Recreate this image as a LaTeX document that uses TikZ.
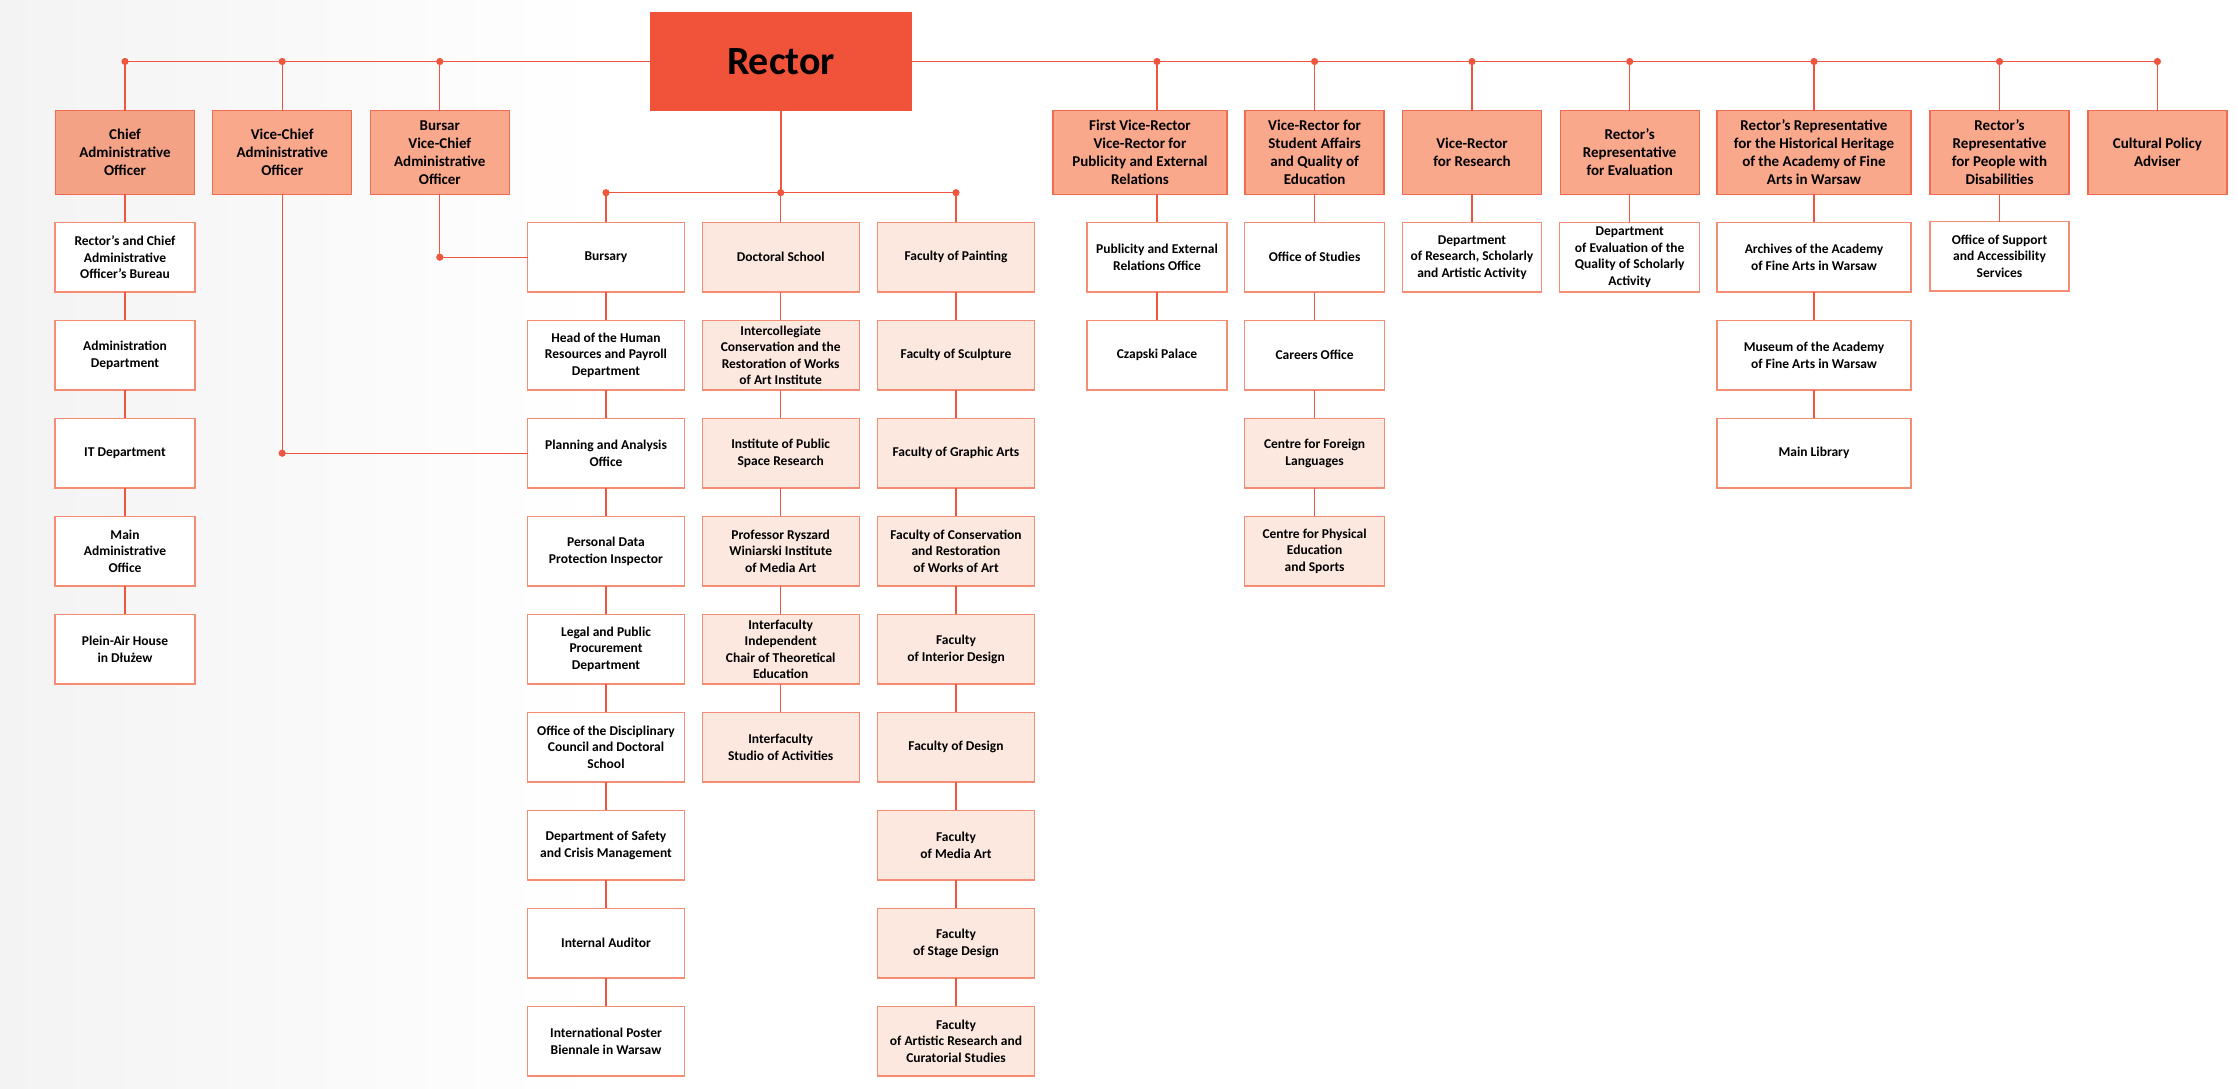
\documentclass[tikz,border=0pt]{standalone}
\usepackage{fontspec}
\setmainfont{Carlito}
\usepackage{tikz}
\usetikzlibrary{positioning}
\definecolor{rectorred}{HTML}{F1523A}
\definecolor{linered}{HTML}{F0553F}
\definecolor{headfill}{HTML}{F9A88C}
\definecolor{chieffill}{HTML}{F4A285}
\definecolor{headline}{HTML}{F26B50}
\definecolor{unitline}{HTML}{F58C74}
\definecolor{unitfill}{HTML}{FDE8E0}
\definecolor{bgleft}{HTML}{F3F3F3}

\begin{document}
\begin{tikzpicture}[x=1pt,y=-1pt,
  rector/.style={rectangle, fill=rectorred, minimum width=262pt, minimum height=98.4pt,
                 inner sep=0pt, outer sep=0pt, font=\fontsize{40}{44}\selectfont\bfseries},
  head/.style={rectangle, draw=headline, fill=headfill, line width=1.3pt, minimum width=139pt,
               minimum height=83.6pt, align=center, inner sep=1pt, outer sep=0pt,
               font=\fontsize{15}{18}\selectfont\bfseries},
  unit/.style={rectangle, draw=unitline, fill=white, line width=1.3pt, minimum width=140pt,
               minimum height=69.6pt, align=center, inner sep=1pt, outer sep=0pt,
               font=\fontsize{13.5}{16.5}\selectfont\bfseries},
  unitl/.style={unit, fill=unitfill},
  wide/.style={minimum width=157pt},
  wire/.style={draw=linered, line width=1.3pt},
  dot/.style={fill=linered}
]
  \useasboundingbox (0,0) rectangle (2238,1089);
  \shade[left color=bgleft, right color=white] (0,0) rectangle (600,1089);

  \node[rector] (rector) at (781,61.5) {Rector};

  % heads
  \node[head,fill=chieffill] (cao) at (125,152.5) {Chief\\Administrative\\Officer};
  \node[head] (vca) at (282.2,152.5) {Vice-Chief\\Administrative\\Officer};
  \node[head] (bvc) at (439.8,152.5) {Bursar\\Vice-Chief\\Administrative\\Officer};
  \node[head,minimum width=174pt] (fvr) at (1140,152.5) {First Vice-Rector\\Vice-Rector for\\Publicity and External\\Relations};
  \node[head] (vrs) at (1314.6,152.5) {Vice-Rector for\\Student Affairs\\and Quality of\\Education};
  \node[head] (vrr) at (1472,152.5)   {Vice-Rector\\for Research};
  \node[head] (rre) at (1629.7,152.5) {Rector’s\\Representative\\for Evaluation};
  \node[head,minimum width=194pt] (rrh) at (1814,152.5) {Rector’s Representative\\for the Historical Heritage\\of the Academy of Fine\\Arts in Warsaw};
  \node[head] (rrd) at (1999.5,152.5) {Rector’s\\Representative\\for People with\\Disabilities};
  \node[head] (cpa) at (2157.4,152.5) {Cultural Policy\\Adviser};

  % chief administrative officer
  \node[unit] (rcb) at (125,257.2) {Rector’s and Chief\\Administrative\\Officer’s Bureau};
  \node[unit,below=28.4pt of rcb] (adm) {Administration\\Department};
  \node[unit,below=28.4pt of adm] (itd) {IT Department};
  \node[unit,below=28.4pt of itd] (mao) {Main\\Administrative\\Office};
  \node[unit,below=28.4pt of mao] (pah) {Plein-Air House\\in Dłużew};

  % administration
  \node[unit,wide] (bsy) at (606,257.2) {Bursary};
  \node[unit,wide,below=28.4pt of bsy] (hrp) {Head of the Human\\Resources and Payroll\\Department};
  \node[unit,wide,below=28.4pt of hrp] (pao) {Planning and Analysis\\Office};
  \node[unit,wide,below=28.4pt of pao] (pdp) {Personal Data\\Protection Inspector};
  \node[unit,wide,below=28.4pt of pdp] (lpp) {Legal and Public\\Procurement\\Department};
  \node[unit,wide,below=28.4pt of lpp] (odc) {Office of the Disciplinary\\Council and Doctoral\\School};
  \node[unit,wide,below=28.4pt of odc] (dsc) {Department of Safety\\and Crisis Management};
  \node[unit,wide,below=28.4pt of dsc] (iau) {Internal Auditor};
  \node[unit,wide,below=28.4pt of iau] (ipb) {International Poster\\Biennale in Warsaw};

  % doctoral school and institutes
  \node[unitl,wide] (dsc1) at (780.7,257.2) {Doctoral School};
  \node[unitl,wide,below=28.4pt of dsc1] (icr) {Intercollegiate\\Conservation and the\\Restoration of Works\\of Art Institute};
  \node[unitl,wide,below=28.4pt of icr] (ips) {Institute of Public\\Space Research};
  \node[unitl,wide,below=28.4pt of ips] (prw) {Professor Ryszard\\Winiarski Institute\\of Media Art};
  \node[unitl,wide,below=28.4pt of prw] (ict) {Interfaculty\\Independent\\Chair of Theoretical\\Education};
  \node[unitl,wide,below=28.4pt of ict] (isa) {Interfaculty\\Studio of Activities};

  % faculties
  \node[unitl,wide] (fpa) at (956,257.2) {Faculty of Painting};
  \node[unitl,wide,below=28.4pt of fpa] (fsc) {Faculty of Sculpture};
  \node[unitl,wide,below=28.4pt of fsc] (fga) {Faculty of Graphic Arts};
  \node[unitl,wide,below=28.4pt of fga] (fcr) {Faculty of Conservation\\and Restoration\\of Works of Art};
  \node[unitl,wide,below=28.4pt of fcr] (fid) {Faculty\\of Interior Design};
  \node[unitl,wide,below=28.4pt of fid] (fde) {Faculty of Design};
  \node[unitl,wide,below=28.4pt of fde] (fma) {Faculty\\of Media Art};
  \node[unitl,wide,below=28.4pt of fma] (fsd) {Faculty\\of Stage Design};
  \node[unitl,wide,below=28.4pt of fsd] (far) {Faculty\\of Artistic Research and\\Curatorial Studies};

  % vice-rectors and representatives
  \node[unit] (peo) at (1157,257.2) {Publicity and External\\Relations Office};
  \node[unit,below=28.4pt of peo] (czp) {Czapski Palace};
  \node[unit] (ost) at (1314.6,257.2) {Office of Studies};
  \node[unit,below=28.4pt of ost] (cof) {Careers Office};
  \node[unitl,below=28.4pt of cof] (cfl) {Centre for Foreign\\Languages};
  \node[unitl,below=28.4pt of cfl] (cpe) {Centre for Physical\\Education\\and Sports};
  \node[unit,minimum width=139pt] (drs) at (1472,257.2) {Department\\of Research, Scholarly\\and Artistic Activity};
  \node[unit] (dev) at (1629.7,257.2) {Department\\of Evaluation of the\\Quality of Scholarly\\Activity};
  \node[unit,minimum width=194pt] (arc) at (1814,257.2) {Archives of the Academy\\of Fine Arts in Warsaw};
  \node[unit,minimum width=194pt,below=28.4pt of arc] (mus) {Museum of the Academy\\of Fine Arts in Warsaw};
  \node[unit,minimum width=194pt,below=28.4pt of mus] (lib) {Main Library};
  \node[unit,minimum width=139pt] (osa) at (1999.5,256.3) {Office of Support\\and Accessibility\\Services};

  % top bus
  \draw[wire] (rector.west) -- (rector.west -| cao.north);
  \draw[wire] (rector.east) -- (rector.east -| cpa.north);
  \foreach \h/\c in {cao/cao,vca/vca,bvc/bvc,fvr/peo,vrs/vrs,vrr/vrr,rre/rre,rrh/rrh,rrd/rrd,cpa/cpa}{
    \draw[wire] (rector.west -| \c.north) -- (\h.north -| \c.north);
    \fill[dot] (rector.west -| \c.north) circle (3.6pt);
  }

  % rector to schools
  \coordinate (bus) at (781,192.7);
  \draw[wire] (rector.south) -- (bus);
  \draw[wire] (bus -| bsy.north) -- (bus -| fpa.north);
  \foreach \c in {bsy,dsc1,fpa}{
    \draw[wire] (bus -| \c.north) -- (\c.north);
    \fill[dot] (bus -| \c.north) circle (3.6pt);
  }

  % bursar and vice-chief
  \draw[wire] (bvc.south) |- (bsy.west);
  \fill[dot] (bvc.south |- bsy.west) circle (3.6pt);
  \draw[wire] (vca.south) |- (pao.west);
  \fill[dot] (vca.south |- pao.west) circle (3.6pt);

  % columns
  \draw[wire] (cao) -- (rcb) -- (adm) -- (itd) -- (mao) -- (pah);
  \draw[wire] (bsy) -- (hrp) -- (pao) -- (pdp) -- (lpp) -- (odc) -- (dsc) -- (iau) -- (ipb);
  \draw[wire] (dsc1) -- (icr) -- (ips) -- (prw) -- (ict) -- (isa);
  \draw[wire] (fpa) -- (fsc) -- (fga) -- (fcr) -- (fid) -- (fde) -- (fma) -- (fsd) -- (far);
  \draw[wire] (fvr.south -| peo.north) -- (peo) -- (czp);
  \draw[wire] (vrs) -- (ost) -- (cof) -- (cfl) -- (cpe);
  \draw[wire] (vrr) -- (drs);
  \draw[wire] (rre) -- (dev);
  \draw[wire] (rrh) -- (arc) -- (mus) -- (lib);
  \draw[wire] (rrd) -- (osa);
\end{tikzpicture}
\end{document}
